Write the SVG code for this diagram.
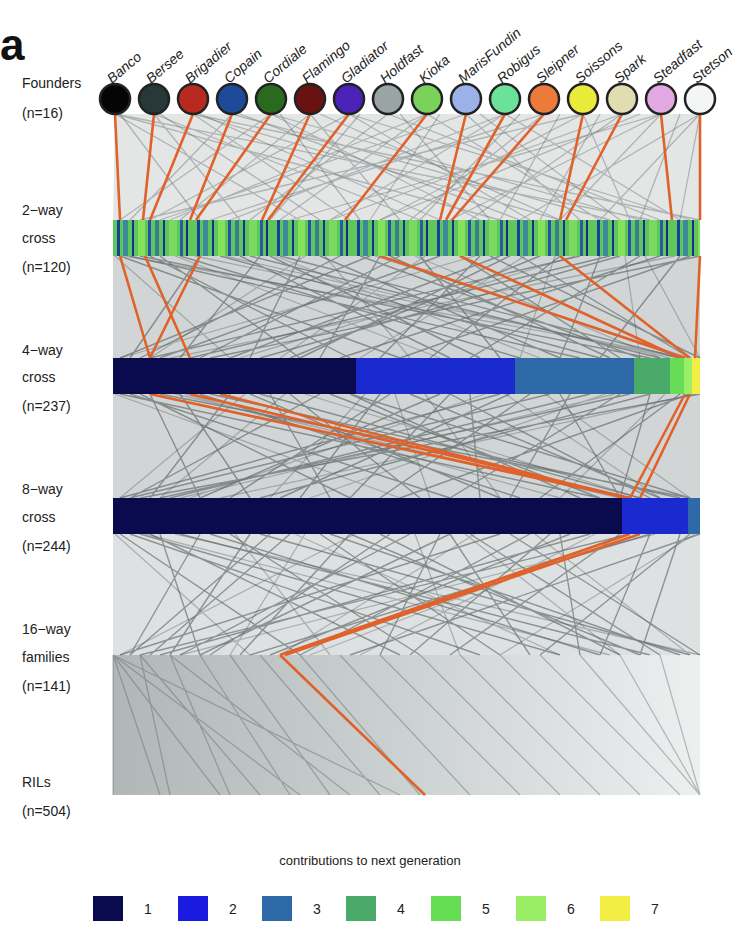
<svg xmlns="http://www.w3.org/2000/svg" width="737" height="937" viewBox="0 0 737 937">
<style>
text{font-family:"Liberation Sans",Arial,sans-serif;fill:#222}
.lab{font-size:14px}
.fn{font-size:14px;font-style:italic}
.g{fill:none;stroke:#4a5555;stroke-opacity:.35;stroke-width:1.3}
.g2{fill:none;stroke:#3a4545;stroke-opacity:.5;stroke-width:1.4}
.o{fill:none;stroke:#e0622a;stroke-width:2.6}
.c{stroke:#222;stroke-width:2.5}
.haze{fill:#6a7575}
</style>
<defs>
<pattern id="stripes" width="80" height="36" patternUnits="userSpaceOnUse" x="113" y="220">
<rect width="80" height="36" fill="#5ec65a"/>
<rect x="4" width="3" height="36" fill="#1a3f9a"/>
<rect x="10" width="5" height="36" fill="#3a8a9a"/>
<rect x="19" width="2" height="36" fill="#1a2f8a"/>
<rect x="25" width="7" height="36" fill="#86e25a"/>
<rect x="35" width="3" height="36" fill="#2a4faa"/>
<rect x="42" width="4" height="36" fill="#3a7f8a"/>
<rect x="50" width="2" height="36" fill="#1a2f9a"/>
<rect x="56" width="8" height="36" fill="#7ada60"/>
<rect x="67" width="3" height="36" fill="#2a5aa0"/>
<rect x="73" width="2" height="36" fill="#1a2a7a"/>
</pattern>
<linearGradient id="fan" x1="0" y1="0" x2="1" y2="0">
<stop offset="0" stop-color="#7d8686"/>
<stop offset="0.5" stop-color="#aab2b2"/>
<stop offset="1" stop-color="#e2e6e6"/>
</linearGradient>
</defs>
<rect width="737" height="937" fill="#fff"/>
<text x="0" y="60" style="font-size:44px;font-weight:bold;fill:#111">a</text>

<g id="haze">
<polygon class="haze" points="115,114 700,114 700,220 113,220" opacity="0.18"/>
<rect class="haze" x="113" y="256" width="587" height="102" opacity="0.3"/>
<rect class="haze" x="113" y="394" width="587" height="104" opacity="0.3"/>
<rect class="haze" x="113" y="534" width="587" height="121" opacity="0.22"/>
</g>

<g id="connectors">
<path class="g" d="M115 114L300 220M154 114L420 220M193 114L560 220M232 114L130 220M271 114L640 220M310 114L180 220M349 114L690 220M388 114L250 220M427 114L600 220M466 114L160 220M505 114L330 220M544 114L210 220M583 114L380 220M622 114L470 220M661 114L290 220M700 114L520 220M115 114L500 220M154 114L240 220M193 114L350 220M232 114L610 220M271 114L120 220M310 114L400 220M349 114L530 220M388 114L660 220M427 114L170 220M466 114L580 220M505 114L680 220M544 114L410 220M583 114L140 220M622 114L330 220M661 114L450 220M700 114L600 220M115 114L650 220M193 114L700 220M271 114L480 220M349 114L150 220M427 114L280 220M505 114L230 220M583 114L630 220M661 114L560 220"/>
<path class="g" d="M120 114L200 220M160 114L320 220M200 114L440 220M240 114L520 220M280 114L360 220M320 114L560 220M360 114L270 220M400 114L490 220M440 114L370 220M480 114L620 220M520 114L420 220M560 114L500 220M600 114L540 220M640 114L380 220M680 114L640 220M700 114L680 220"/>
<path class="g2" d="M120 256L400 358M140 256L650 358M160 256L300 358M180 256L520 358M200 256L130 358M220 256L600 358M240 256L450 358M260 256L180 358M280 256L680 358M300 256L250 358M320 256L560 358M340 256L140 358M360 256L640 358M380 256L320 358M400 256L200 358M420 256L500 358M440 256L160 358M460 256L620 358M480 256L380 358M500 256L230 358M520 256L690 358M540 256L290 358M560 256L430 358M580 256L150 358M600 256L560 358M620 256L260 358M640 256L470 358M660 256L340 358M680 256L600 358M700 256L210 358M130 256L580 358M250 256L660 358M370 256L120 358M490 256L700 358M610 256L190 358M690 256L400 358M150 256L350 358M270 256L480 358M390 256L610 358M510 256L300 358"/>
<path class="g" d="M125 256L690 358M175 256L440 358M225 256L670 358M275 256L540 358M325 256L410 358M375 256L690 358M425 256L280 358M475 256L120 358M525 256L360 358M575 256L240 358M625 256L640 358M675 256L170 358M115 256L230 358M195 256L680 358M305 256L150 358M415 256L660 358M555 256L520 358M645 256L700 358"/>
<path class="g2" d="M120 394L600 498M140 394L350 498M160 394L690 498M180 394L250 498M200 394L520 498M230 394L150 498M260 394L640 498M290 394L420 498M320 394L130 498M350 394L580 498M380 394L300 498M410 394L660 498M440 394L200 498M470 394L480 498M500 394L120 498M530 394L380 498M560 394L620 498M590 394L170 498M620 394L450 498M650 394L260 498M680 394L540 498M700 394L140 498M130 394L450 498M210 394L680 498M270 394L330 498M330 394L600 498M390 394L230 498M450 394L650 498M510 394L280 498M570 394L510 498M630 394L160 498M690 394L400 498M150 394L200 498M250 394L500 498M350 394L690 498M450 394L350 498M550 394L130 498M650 394L620 498"/>
<path class="g" d="M115 394L400 498M185 394L560 498M245 394L120 498M305 394L640 498M365 394L270 498M425 394L500 498M485 394L190 498M545 394L690 498M605 394L310 498M665 394L560 498M695 394L220 498M175 394L620 498M285 394L160 498M395 394L430 498M505 394L660 498M615 394L180 498"/>
<path class="g2" d="M120 534L300 655M140 534L560 655M160 534L200 655M180 534L650 655M200 534L130 655M230 534L420 655M260 534L690 655M290 534L150 655M320 534L500 655M350 534L240 655M380 534L620 655M410 534L180 655M440 534L380 655M470 534L660 655M500 534L120 655M530 534L300 655M560 534L580 655M590 534L160 655M620 534L450 655M650 534L250 655M680 534L640 655M700 534L350 655M130 534L480 655M210 534L600 655M270 534L130 655M330 534L680 655M390 534L210 655M450 534L530 655M510 534L700 655M570 534L270 655M630 534L140 655M690 534L540 655M150 534L400 655M250 534L170 655M350 534L640 655M450 534L200 655M550 534L410 655M650 534L600 655"/>
<path class="g" d="M115 534L250 655M175 534L700 655M235 534L330 655M295 534L560 655M355 534L120 655M415 534L460 655M475 534L280 655M535 534L690 655M595 534L360 655M655 534L180 655M695 534L500 655M145 534L610 655M305 534L230 655M465 534L620 655M625 534L310 655"/>
</g>

<g id="ril-fan">
<polygon points="113,655 700,655 700,795 113,795" fill="url(#fan)" opacity="0.6"/>
<path class="g" d="M113 655L113 795M113 655L160 795M113 655L220 795M113 655L300 795M113 655L400 795M140 655L170 795M140 655L260 795M170 655L230 795M170 655L350 795M200 655L290 795M230 655L330 795M260 655L380 795M300 655L420 795M340 655L470 795M380 655L520 795M420 655L560 795M460 655L600 795M500 655L640 795M540 655L680 795M580 655L700 795M620 655L700 795M660 655L700 795"/>
</g>

<g id="orange">
<path class="o" d="M115 114L120 220M154 114L143 220M193 114L150 220M232 114L190 220M271 114L196 220M310 114L262 220M349 114L268 220M427 114L345 220M466 114L440 220M505 114L446 220M544 114L452 220M583 114L560 220M622 114L566 220M661 114L672 220M700 114L700 220"/>
<path class="o" d="M120 256L150 358M145 256L190 358M200 256L150 358M380 256L685 358M460 256L680 358M560 256L690 358M700 256L695 358"/>
<path class="o" d="M150 394L628 498M190 394L630 498M220 394L625 498M685 394L630 498M690 394L640 498"/>
<path class="o" d="M630 534L280 655M640 534L285 655M280 655L425 795"/>
</g>

<g id="founders">
<circle class="c" cx="115" cy="99" r="15" fill="#050505"/>
<circle class="c" cx="154" cy="99" r="15" fill="#263838"/>
<circle class="c" cx="193" cy="99" r="15" fill="#b82a20"/>
<circle class="c" cx="232" cy="99" r="15" fill="#1e4a9a"/>
<circle class="c" cx="271" cy="99" r="15" fill="#2a6a1e"/>
<circle class="c" cx="310" cy="99" r="15" fill="#6a1212"/>
<circle class="c" cx="349" cy="99" r="15" fill="#4a22b8"/>
<circle class="c" cx="388" cy="99" r="15" fill="#9aa4a4"/>
<circle class="c" cx="427" cy="99" r="15" fill="#7ad25a"/>
<circle class="c" cx="466" cy="99" r="15" fill="#9ab2e8"/>
<circle class="c" cx="505" cy="99" r="15" fill="#6ae29a"/>
<circle class="c" cx="544" cy="99" r="15" fill="#ec7a3a"/>
<circle class="c" cx="583" cy="99" r="15" fill="#eaea3a"/>
<circle class="c" cx="622" cy="99" r="15" fill="#e2dcb2"/>
<circle class="c" cx="661" cy="99" r="15" fill="#e2a8e2"/>
<circle class="c" cx="700" cy="99" r="15" fill="#f4f6f6"/>
<g class="fn">
<text transform="translate(112,84) rotate(-40)">Banco</text>
<text transform="translate(151,84) rotate(-40)">Bersee</text>
<text transform="translate(190,84) rotate(-40)">Brigadier</text>
<text transform="translate(229,84) rotate(-40)">Copain</text>
<text transform="translate(268,84) rotate(-40)">Cordiale</text>
<text transform="translate(307,84) rotate(-40)">Flamingo</text>
<text transform="translate(346,84) rotate(-40)">Gladiator</text>
<text transform="translate(385,84) rotate(-40)">Holdfast</text>
<text transform="translate(424,84) rotate(-40)">Kioka</text>
<text transform="translate(463,84) rotate(-40)">MarisFundin</text>
<text transform="translate(502,84) rotate(-40)">Robigus</text>
<text transform="translate(541,84) rotate(-40)">Sleipner</text>
<text transform="translate(580,84) rotate(-40)">Soissons</text>
<text transform="translate(619,84) rotate(-40)">Spark</text>
<text transform="translate(658,84) rotate(-40)">Steadfast</text>
<text transform="translate(697,84) rotate(-40)">Stetson</text>
</g>
</g>

<g id="two-way">
<rect x="113" y="220" width="587" height="36" fill="url(#stripes)"/>
</g>
<g id="four-way">
<rect x="113" y="358" width="243" height="36" fill="#0a0a4e"/>
<rect x="356" y="358" width="159" height="36" fill="#1a2ad0"/>
<rect x="515" y="358" width="119" height="36" fill="#2e6aa8"/>
<rect x="634" y="358" width="36" height="36" fill="#4aaa6a"/>
<rect x="670" y="358" width="14" height="36" fill="#66dd55"/>
<rect x="684" y="358" width="8" height="36" fill="#99ee66"/>
<rect x="692" y="358" width="8" height="36" fill="#f2ee44"/>
</g>
<g id="eight-way">
<rect x="113" y="498" width="509" height="36" fill="#0a0a4e"/>
<rect x="622" y="498" width="66" height="36" fill="#1a2ad0"/>
<rect x="688" y="498" width="12" height="36" fill="#2e6aa8"/>
</g>

<g id="labels" class="lab">
<text x="22" y="88">Founders</text><text x="22" y="118">(n=16)</text>
<text x="22" y="215">2−way</text><text x="22" y="243">cross</text><text x="22" y="272">(n=120)</text>
<text x="22" y="355">4−way</text><text x="22" y="382">cross</text><text x="22" y="411">(n=237)</text>
<text x="22" y="494">8−way</text><text x="22" y="522">cross</text><text x="22" y="551">(n=244)</text>
<text x="22" y="634">16−way</text><text x="22" y="662">families</text><text x="22" y="691">(n=141)</text>
<text x="22" y="787">RILs</text><text x="22" y="816">(n=504)</text>
</g>

<g id="legend">
<text x="370" y="865" text-anchor="middle" style="font-size:13px">contributions to next generation</text>
<rect x="93" y="896" width="30" height="25" fill="#0a0a4e"/><text x="144" y="914" class="lab">1</text>
<rect x="178" y="896" width="30" height="25" fill="#1a1ae0"/><text x="229" y="914" class="lab">2</text>
<rect x="262" y="896" width="30" height="25" fill="#2e6aa8"/><text x="313" y="914" class="lab">3</text>
<rect x="346" y="896" width="30" height="25" fill="#4aaa6a"/><text x="397" y="914" class="lab">4</text>
<rect x="431" y="896" width="30" height="25" fill="#66dd55"/><text x="482" y="914" class="lab">5</text>
<rect x="516" y="896" width="30" height="25" fill="#99ee66"/><text x="567" y="914" class="lab">6</text>
<rect x="600" y="896" width="30" height="25" fill="#f2ee44"/><text x="651" y="914" class="lab">7</text>
</g>
</svg>
